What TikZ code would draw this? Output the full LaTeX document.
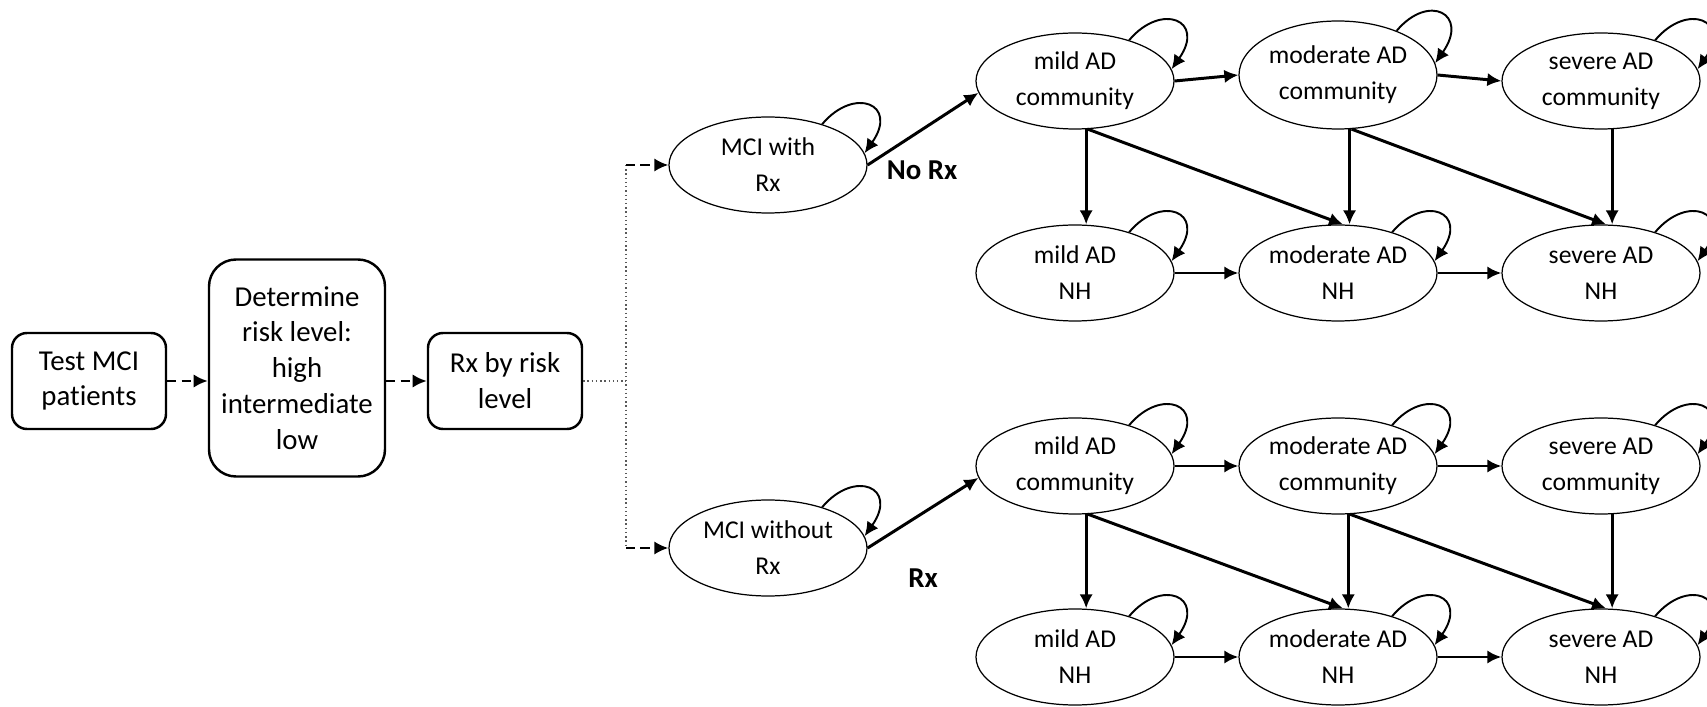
\documentclass[tikz,border=0pt]{standalone}
\usepackage{fontspec}
\setmainfont{Carlito}[Ligatures=NoCommon]
\usetikzlibrary{arrows.meta,shapes.geometric}

\tikzset{
  box/.style={draw, line width=0.7pt, align=center, inner sep=0pt,
    minimum width=15.4mm, minimum height=9.6mm,
    font=\fontsize{8.2}{10.2}\selectfont},
  adstate/.style={draw, ellipse, line width=0.35pt, align=center, inner sep=0pt,
    minimum width=19.8mm, minimum height=9.6mm,
    font=\fontsize{7.3}{10.2}\selectfont},
  flow/.style={->, line width=0.85pt},
  dasharrow/.style={->, line width=0.75pt, dash pattern=on 2.6pt off 1.5pt},
  trunk/.style={line width=0.4pt, black!65, dash pattern=on 0.4pt off 0.8pt},
  selfloop/.style={->, line width=0.55pt},
  lbl/.style={font=\fontsize{8.2}{10}\selectfont\bfseries}
}

\begin{document}
\begin{tikzpicture}[x=0.1mm, y=0.1mm, >={Latex[length=4pt,width=3.8pt]}]
  \useasboundingbox (0,0) rectangle (1707,-707);
  % screening steps
  \node[box, rounded corners=1.5mm] (test) at (89,-381) {Test MCI\\patients};
  \node[box, rounded corners=2.7mm, minimum width=17.6mm, minimum height=21.7mm]
    (risk) at (297,-368) {Determine\\risk level:\\high\\intermediate\\low};
  \node[box, rounded corners=1.5mm] (rxlevel) at (505,-381) {Rx by risk\\level};
  \coordinate (split) at (626,-381);
  % MCI states
  \node[adstate] (mciW) at (768,-165) {MCI with\\Rx};
  \node[adstate] (mciWo) at (768,-548) {MCI without\\Rx};
  \node[lbl] (norx) at (922,-170) {No Rx};
  \node[lbl] (yesrx) at (923,-578) {Rx};
  % AD states, upper branch
  \node[adstate] (miC1) at (1075,-81) {mild AD\\community};
  \node[adstate, minimum height=10.8mm] (moC1) at (1338,-75) {moderate AD\\community};
  \node[adstate] (seC1) at (1601,-81) {severe AD\\community};
  \node[adstate] (miN1) at (1075,-273) {mild AD\\NH};
  \node[adstate] (moN1) at (1338,-273) {moderate AD\\NH};
  \node[adstate] (seN1) at (1601,-273) {severe AD\\NH};
  % AD states, lower branch
  \node[adstate] (miC2) at (1075,-466) {mild AD\\community};
  \node[adstate] (moC2) at (1338,-466) {moderate AD\\community};
  \node[adstate] (seC2) at (1601,-466) {severe AD\\community};
  \node[adstate] (miN2) at (1075,-657) {mild AD\\NH};
  \node[adstate] (moN2) at (1338,-657) {moderate AD\\NH};
  \node[adstate] (seN2) at (1601,-657) {severe AD\\NH};

  \draw[dasharrow] (test.east) -- (test.east -| risk.west);
  \draw[dasharrow] (rxlevel.west -| risk.east) -- (rxlevel.west);
  \draw[trunk] (rxlevel.east) -- (split);
  \draw[trunk] (split |- mciW.west) -- (split |- mciWo.west);
  \draw[dasharrow] (split |- mciW.west) -- (mciW.west);
  \draw[dasharrow] (split |- mciWo.west) -- (mciWo.west);
  \draw[flow] (mciW.east) -- (miC1.187);
  \draw[flow] (mciWo.east) -- (miC2.187);

  \foreach \k in {1,2} {
    \draw[flow] (miC\k.east) -- (moC\k.west);
    \draw[flow] (moC\k.east) -- (seC\k.west);
    \draw[flow] (miN\k.east) -- (moN\k.west);
    \draw[flow] (moN\k.east) -- (seN\k.west);
    \draw[flow] (miC\k.-77) -- (miC\k.-77 |- miN\k.north);
    \draw[flow] (moC\k.-78) -- (moC\k.-78 |- moN\k.north);
    \draw[flow] (seC\k.-77) -- (seC\k.-77 |- seN\k.north);
    \draw[flow] (miC\k.-75) -- (moN\k.84);
    \draw[flow] (moC\k.-76) -- (seN\k.84);
  }

  % staying in the same state
  \foreach \n in {mciW,mciWo,miC1,moC1,seC1,miN1,moN1,seN1,miC2,moC2,seC2,miN2,moN2,seN2}
    \draw[selfloop] (\n.37) .. controls +(50:50) and +(55:60) .. (\n.7);
\end{tikzpicture}
\end{document}
